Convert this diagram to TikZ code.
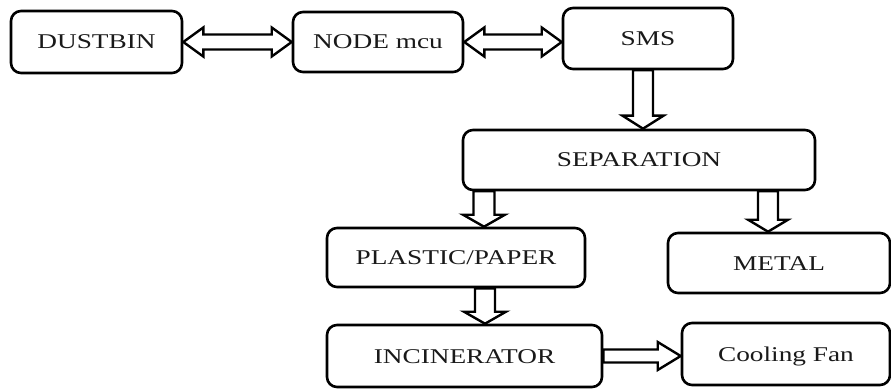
\documentclass[tikz,border=0pt]{standalone}
\usepackage{fontspec}
\setmainfont{Liberation Serif}[FakeStretch=1.3]
\usetikzlibrary{calc}
\tikzset{
  box/.style={draw=black, line width=2.6pt, rounded corners=10pt, fill=white,
    font=\fontsize{21}{23}\selectfont, text=black!90, text height=14pt, text depth=0pt,
    inner sep=0pt, align=center},
  blk/.style={draw=black, line width=2.4pt, fill=white, line join=miter}
}
% horizontal double arrow: #1 left point, #2 right point, #3 shaft half, #4 head half, #5 head length
\newcommand\dblharrow[5]{%
  \draw[blk] let \p1=(#1), \p2=(#2) in
    (\x1,\y1) -- (\x1+#5,\y1+#4) -- (\x1+#5,\y1+#3) -- (\x2-#5,\y1+#3) -- (\x2-#5,\y1+#4)
    -- (\x2,\y1) -- (\x2-#5,\y1-#4) -- (\x2-#5,\y1-#3) -- (\x1+#5,\y1-#3) -- (\x1+#5,\y1-#4) -- cycle;}
% horizontal single arrow pointing right
\newcommand\sglharrow[5]{%
  \draw[blk] let \p1=(#1), \p2=(#2) in
    (\x1,\y1+#3) -- (\x2-#5,\y1+#3) -- (\x2-#5,\y1+#4) -- (\x2,\y1)
    -- (\x2-#5,\y1-#4) -- (\x2-#5,\y1-#3) -- (\x1,\y1-#3) -- cycle;}
% vertical single arrow pointing down: #1 top point, #2 bottom point
\newcommand\sglvarrow[5]{%
  \draw[blk] let \p1=(#1), \p2=(#2) in
    (\x1-#3,\y1) -- (\x1-#3,\y2+#5) -- (\x1-#4,\y2+#5) -- (\x1,\y2)
    -- (\x1+#4,\y2+#5) -- (\x1+#3,\y2+#5) -- (\x1+#3,\y1) -- cycle;}
\begin{document}
\begin{tikzpicture}[x=1pt,y=-1pt]
\useasboundingbox[fill=white] (0,0) rectangle (891,390);

\node[box, minimum width=171pt, minimum height=62pt] (dust)  at (96.5,42)  {DUSTBIN};
\node[box, minimum width=170pt, minimum height=60pt] (mcu)   at (378,42)   {NODE mcu};
\node[box, minimum width=170pt, minimum height=61pt] (sms)   at (648,38.5) {SMS};
\node[box, minimum width=352pt, minimum height=60pt] (sep)   at (639,160)  {SEPARATION};
\node[box, minimum width=258pt, minimum height=59pt] (pp)    at (456,257.5){PLASTIC/PAPER};
\node[box, minimum width=222pt, minimum height=60pt] (metal) at (779,263)  {METAL};
\node[box, minimum width=275pt, minimum height=62pt] (inc)   at (464.5,356){INCINERATOR};
\node[box, minimum width=208pt, minimum height=62pt] (fan)   at (786,354)  {Cooling Fan};

% connector end points
\coordinate (smsB) at ([xshift=-5pt]sms.south);
\coordinate (sepT) at (sep.north -| smsB);
\coordinate (ppT)  at ([xshift=28pt]pp.north);
\coordinate (sepL) at (sep.south -| ppT);
\coordinate (metT) at ([xshift=-11pt]metal.north);
\coordinate (sepR) at (sep.south -| metT);
\coordinate (ppB)  at ([xshift=29pt]pp.south);
\coordinate (incT) at (inc.north -| ppB);
\coordinate (smsL) at (sms.west |- mcu.east);
\coordinate (fanL) at (fan.west |- inc.east);

\dblharrow{dust.east}{mcu.west}{7.5pt}{14.5pt}{20pt}
\dblharrow{mcu.east}{smsL}{7.5pt}{14.5pt}{20pt}
\sglvarrow{smsB}{sepT}{10pt}{20.5pt}{13pt}
\sglvarrow{sepL}{ppT}{10.5pt}{21pt}{12pt}
\sglvarrow{sepR}{metT}{10pt}{20pt}{12pt}
\sglvarrow{ppB}{incT}{10pt}{21pt}{12pt}
\sglharrow{inc.east}{fanL}{6.5pt}{14pt}{23pt}
\end{tikzpicture}
\end{document}
